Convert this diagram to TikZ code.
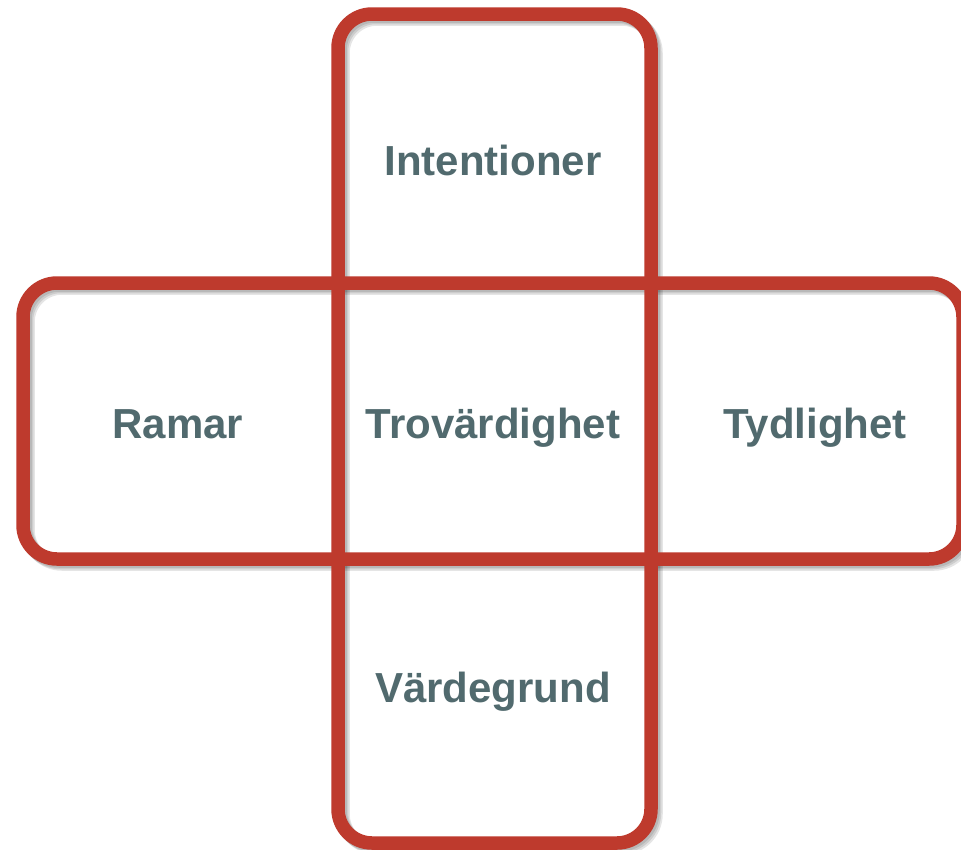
\documentclass[tikz,border=0pt]{standalone}
\usepackage{fontspec}
\setmainfont{Liberation Sans}
\definecolor{frame}{HTML}{BE3A2D}
\definecolor{label}{HTML}{516A6E}
\begin{document}
\begin{tikzpicture}[x=1pt,y=-1pt,
  box/.style={draw=frame,line width=13.5pt,rounded corners=34pt},
  boxshade/.style={draw=black,line width=13.5pt,rounded corners=34pt,draw opacity=0.10},
  word/.style={text=label,font=\bfseries\fontsize{42}{50}\selectfont,inner sep=0pt,anchor=base}]
\useasboundingbox (0,0) rectangle (961,849);
\fill[white] (0,0) rectangle (961,849);
% soft drop shadows under the two frames
\foreach \d in {2,3.5,5}{
  \draw[boxshade,shift={(\d,\d)}] (23,283) rectangle (963,559);
  \draw[boxshade,shift={(\d,\d)}] (338,14) rectangle (651,843);
}
% horizontal frame, then vertical frame on top
\draw[box] (23,283) rectangle (963,559);
\draw[box] (338,14) rectangle (651,843);
% labels (placed by baseline)
\node[word] (int) at (493,175) {Intentioner};
\node[word] (ram) at (178,438) {Ramar};
\node[word] (tro) at (493,438) {Trovärdighet};
\node[word] (tyd) at (815,438) {Tydlighet};
\node[word] (var) at (493,702) {Värdegrund};
\end{tikzpicture}
\end{document}
